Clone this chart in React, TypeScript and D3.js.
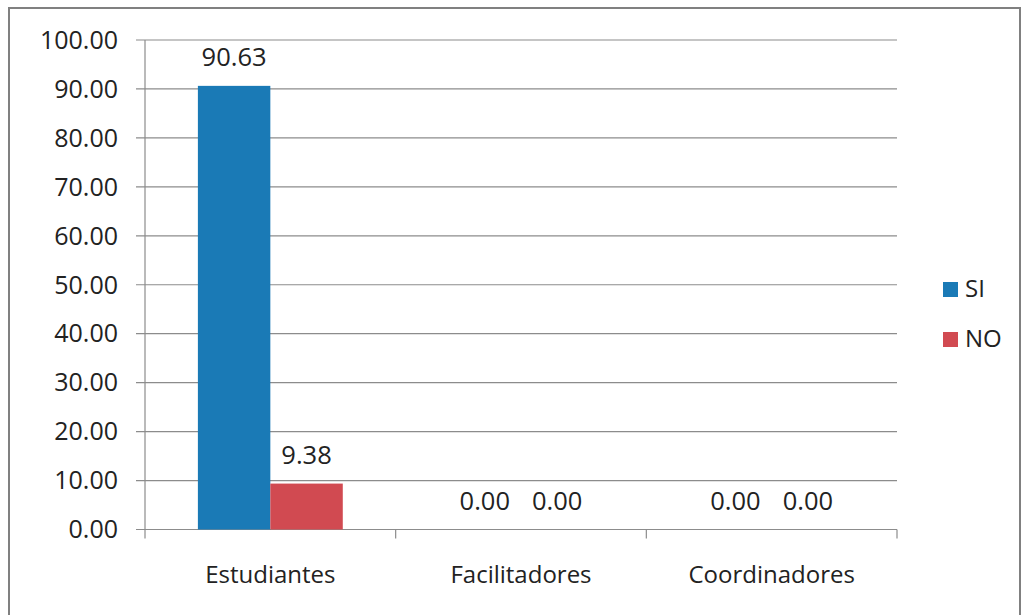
import React from "react";
import * as d3 from "d3";

const categories = ["Estudiantes", "Facilitadores", "Coordinadores"];
const seriesNames = ["SI", "NO"];
const siValues = [90.63, 0.0, 0.0];
const noValues = [9.38, 0.0, 0.0];
const yTicks = [0, 10, 20, 30, 40, 50, 60, 70, 80, 90, 100];
const colors = ["#1a7ab6", "#d14a51"];

const W = 1022;
const H = 615;
const plot = { left: 145, right: 897, top: 40, bottom: 529.5 };
const FONT = "'Open Sans', sans-serif";

export default function App() {
  const x = d3.scaleBand<string>().domain(categories).range([plot.left, plot.right]).paddingInner(0).paddingOuter(0);
  const inner = d3.scaleBand<string>().domain(seriesNames).range([0, x.bandwidth() * 0.578]);
  const groupOffset = (x.bandwidth() - x.bandwidth() * 0.578) / 2;
  const y = d3.scaleLinear().domain([0, 100]).range([plot.bottom, plot.top]);
  const series = [siValues, noValues];
  const fmt = d3.format(".2f");
  const boundaries = [plot.left, ...categories.map((c) => (x(c) as number) + x.bandwidth())];

  return (
    <svg width={W} height={H} style={{ position: "absolute", left: 0, top: 0, background: "#fff" }}>
      <rect x={9} y={8} width={1011} height={620} fill="#fff" stroke="#808080" strokeWidth={2} />
      {yTicks.map((t) => (
        <g key={t}>
          <line x1={136} x2={plot.right} y1={y(t)} y2={y(t)} stroke="#8c8c8c" strokeWidth={1.2} />
          <text x={118} y={y(t)} dy="0.35em" textAnchor="end" fontFamily={FONT} fontSize={25} fill="#222">
            {fmt(t)}
          </text>
        </g>
      ))}
      <line x1={plot.left} x2={plot.left} y1={plot.top} y2={plot.bottom} stroke="#8c8c8c" strokeWidth={1.2} />
      {boundaries.map((b, i) => (
        <line key={i} x1={b} x2={b} y1={plot.bottom} y2={plot.bottom + 9} stroke="#8c8c8c" strokeWidth={1.2} />
      ))}
      {series.map((vals, si) =>
        categories.map((c, ci) => {
          const bx = (x(c) as number) + groupOffset + (inner(seriesNames[si]) as number);
          const bw = inner.bandwidth();
          const v = vals[ci];
          return (
            <g key={`${si}-${ci}`}>
              <rect x={bx} y={y(v)} width={bw} height={plot.bottom - y(v)} fill={colors[si]} />
              <text x={bx + bw / 2} y={y(v) - 19.5} textAnchor="middle" fontFamily={FONT} fontSize={25.5} fill="#222">
                {fmt(v)}
              </text>
            </g>
          );
        })
      )}
      {categories.map((c) => (
        <text key={c} x={(x(c) as number) + x.bandwidth() / 2} y={583} textAnchor="middle" fontFamily={FONT} fontSize={24} fill="#222">
          {c}
        </text>
      ))}
      {seriesNames.map((s, i) => (
        <g key={s} transform={`translate(943, ${282 + i * 50})`}>
          <rect x={0} y={0} width={15} height={15} fill={colors[i]} />
          <text x={22} y={15} fontFamily={FONT} fontSize={24} fill="#222">
            {s}
          </text>
        </g>
      ))}
    </svg>
  );
}
